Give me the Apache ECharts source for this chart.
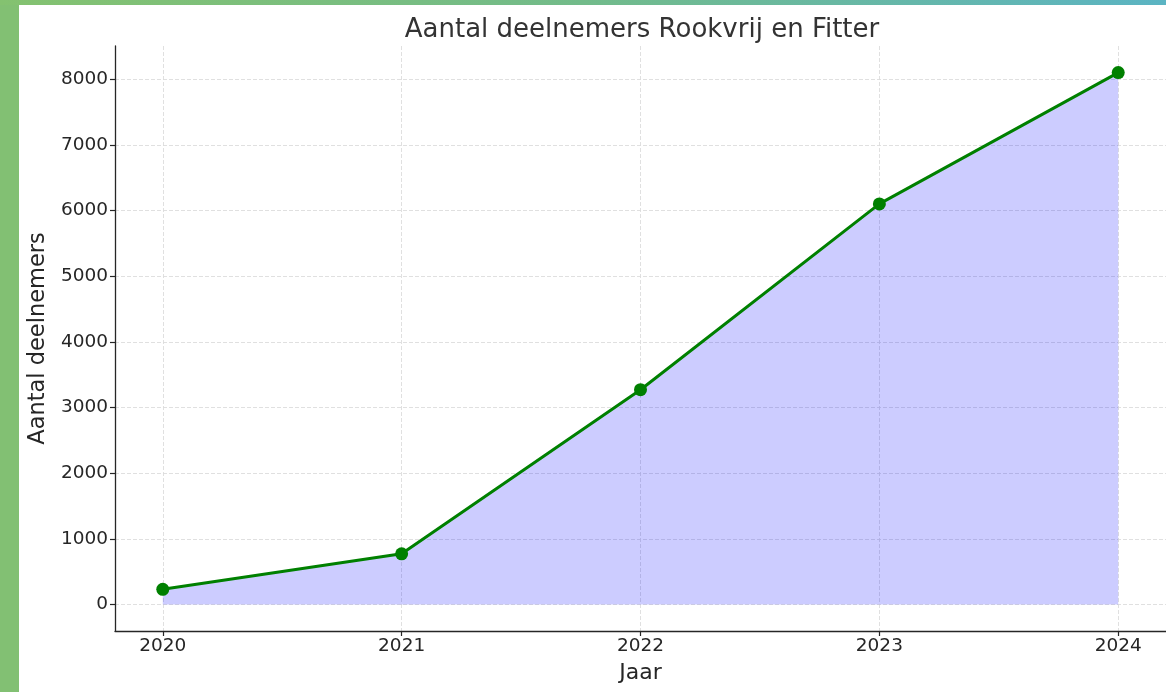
<!DOCTYPE html>
<html>
<head>
<meta charset="utf-8">
<title>Aantal deelnemers Rookvrij en Fitter</title>
<script src="https://cdn.jsdelivr.net/npm/echarts@6/dist/echarts.min.js"></script>
<style>
  html, body { margin: 0; padding: 0; width: 1166px; height: 692px; overflow: hidden; }
  body { background: linear-gradient(90deg, #84c270 0%, #72bb8a 50%, #5bb4c3 100%); position: relative; }
  .side { position: absolute; left: 0; top: 5px; width: 19px; height: 687px; background: #82c073; }
  .com-chart { position: absolute; left: 19px; top: 5px; width: 1147px; height: 687px; background: #ffffff; }
</style>
</head>
<body>
<div class="side"></div>
<div class="com-chart" id="chart"></div>
<script>
// 数据
const years = [2020, 2021, 2022, 2023, 2024]
const deelnemers = [230, 770, 3270, 6100, 8100]
const yTicks = [0, 1000, 2000, 3000, 4000, 5000, 6000, 7000, 8000]

const seriesData = years.map((y, i) => [y, deelnemers[i]])
const font = 'DejaVu Sans'

const chartInstance = echarts.init(document.getElementById('chart'), null, { renderer: 'canvas' })
const option = {
  animation: false,
  title: {
    text: 'Aantal deelnemers Rookvrij en Fitter',
    left: 618, // 绘图区中心
    top: 7,
    textAlign: 'center',
    textStyle: { fontFamily: font, fontSize: 26, fontWeight: 'normal', color: '#333333' }
  },
  grid: { left: 96, top: 41, width: 1055, height: 585, containLabel: false },
  xAxis: {
    type: 'value',
    min: 2019.8,
    max: 2024.2,
    name: 'Jaar',
    nameLocation: 'middle',
    nameGap: 31,
    nameTextStyle: { fontFamily: font, fontSize: 22, color: '#262626' },
    axisLine: { show: true, onZero: false, lineStyle: { color: '#262626', width: 1.3 } },
    axisTick: { show: true, inside: false, length: 5, customValues: years, lineStyle: { color: '#262626', width: 1.2 } },
    axisLabel: { customValues: years, margin: 6, fontFamily: font, fontSize: 18.5, color: '#262626', formatter: v => String(v) },
    splitLine: { show: true, lineStyle: { color: '#dddddd', type: [4, 2], width: 0.9 } }
  },
  yAxis: {
    type: 'value',
    min: -405,
    max: 8505,
    name: 'Aantal deelnemers',
    nameLocation: 'middle',
    nameGap: 64,
    nameRotate: 90,
    nameTextStyle: { fontFamily: font, fontSize: 22.5, color: '#262626' },
    axisLine: { show: true, onZero: false, lineStyle: { color: '#262626', width: 1.3 } },
    axisTick: { show: true, inside: false, length: 5, customValues: yTicks, lineStyle: { color: '#262626', width: 1.2 } },
    axisLabel: { customValues: yTicks, margin: 7, fontFamily: font, fontSize: 18.5, color: '#262626', formatter: v => String(v) },
    splitLine: { show: true, lineStyle: { color: '#dddddd', type: [4, 2], width: 0.9 } }
  },
  series: [
    {
      type: 'line',
      data: seriesData,
      symbol: 'circle',
      symbolSize: 13,
      lineStyle: { color: '#008000', width: 3 },
      itemStyle: { color: '#008000' },
      areaStyle: { color: 'rgba(0, 0, 255, 0.2)', opacity: 1, origin: 0 },
      z: 3
    }
  ]
}
chartInstance.setOption(option)
</script>
</body>
</html>
